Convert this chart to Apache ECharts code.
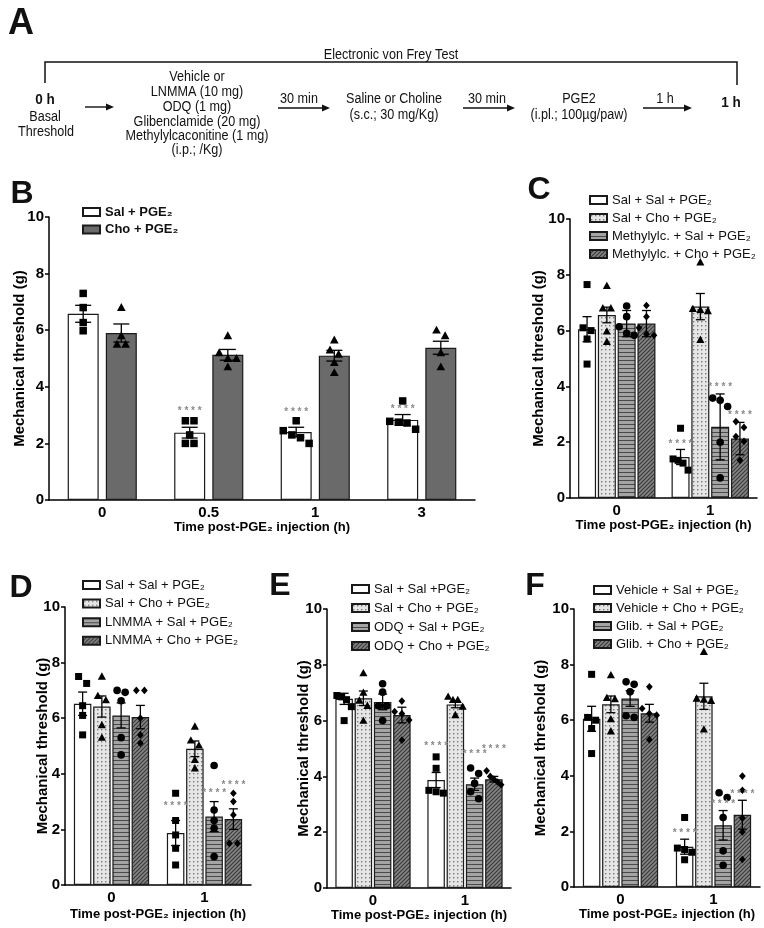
<!DOCTYPE html>
<html><head><meta charset="utf-8">
<script src="https://cdn.jsdelivr.net/npm/echarts@6/dist/echarts.min.js"></script>
<style>html,body{margin:0;padding:0;background:#fff}#c{width:764px;height:928px}</style>
</head><body><div id="c"></div>
<script>
// ================= DATA =================
const catsB = ['0', '0.5', '1', '3'];
const catsCF = ['0', '1'];
const xTitle = 'Time post-PGE₂ injection (h)';
const yTitle = 'Mechanical threshold (g)';

// Panel B
const B_sal_mean = [6.58, 2.38, 2.4, 2.83];
const B_sal_sem = [0.3, 0.19, 0.17, 0.19];
const B_sal_pts = [[7.3, 6.8, 6.27, 5.98], [2.8, 2.8, 2.3, 2.0, 2.0], [2.8, 2.45, 2.3, 2.2, 2.0], [3.5, 2.78, 2.75, 2.72, 2.5]];
const B_sal_stars = [null, 3.12, 3.1, 3.2];
const B_cho_mean = [5.9, 5.13, 5.1, 5.38];
const B_cho_sem = [0.32, 0.19, 0.19, 0.23];
const B_cho_pts = [[6.8, 5.8, 5.5, 5.5], [5.8, 5.2, 5.0, 5.0, 4.7], [5.65, 5.3, 5.15, 4.85, 4.5], [6.0, 5.8, 5.2, 4.7]];

// Panel C
const C_salsal_mean = [6.05, 1.47], C_salsal_sem = [0.45, 0.27];
const C_salsal_pts = [[7.65, 6.1, 6.0, 5.7, 4.8], [2.5, 1.4, 1.35, 1.25, 1.0]];
const C_salsal_stars = [null, 1.93];
const C_salcho_mean = [6.56, 6.86], C_salcho_sem = [0.28, 0.47];
const C_salcho_pts = [[7.6, 6.8, 6.8, 5.97, 5.6], [8.45, 6.78, 6.74, 6.7, 5.67]];
const C_mlasal_mean = [6.25, 2.55], C_mlasal_sem = [0.47, 1.18];
const C_mlasal_pts = [[6.88, 6.5, 6.14, 5.9, 5.83], [3.58, 3.5, 3.28, 2.0, 0.72]];
const C_mlasal_stars = [null, 3.97];
const C_mlacho_mean = [6.25, 2.13], C_mlacho_sem = [0.47, 0.58];
const C_mlacho_pts = [[6.9, 6.5, 6.1, 5.88, 5.83], [2.74, 2.53, 2.2, 2.03, 1.35]];
const C_mlacho_stars = [null, 2.96];

// Panel D
const D_salsal_mean = [6.52, 1.87], D_salsal_sem = [0.42, 0.45];
const D_salsal_pts = [[7.5, 7.25, 6.45, 6.1, 5.4], [3.3, 2.32, 1.8, 1.32, 0.72]];
const D_salsal_stars = [null, 2.84];
const D_salcho_mean = [6.42, 4.9], D_salcho_sem = [0.38, 0.28];
const D_salcho_pts = [[7.5, 6.8, 6.65, 5.75, 5.3], [5.7, 5.2, 5.02, 4.5, 4.2]];
const D_lnsal_mean = [6.1, 2.46], D_lnsal_sem = [0.45, 0.54];
const D_lnsal_pts = [[7.0, 6.93, 6.63, 5.3, 4.68], [4.3, 2.7, 2.32, 2.04, 1.02]];
const D_lnsal_stars = [null, 3.3];
const D_lncho_mean = [6.04, 2.37], D_lncho_sem = [0.42, 0.37];
const D_lncho_pts = [[7.0, 7.0, 6.0, 5.4, 5.1], [3.3, 3.0, 2.52, 1.5, 1.5]];
const D_lncho_stars = [null, 3.6];

// Panel E
const E_salsal_mean = [6.78, 3.87], E_salsal_sem = [0.2, 0.27];
const E_salsal_pts = [[6.9, 6.85, 6.75, 6.5, 6.0], [4.7, 4.29, 3.5, 3.45, 3.4]];
const E_salsal_stars = [null, 5.07];
const E_salcho_mean = [6.8, 6.58], E_salcho_sem = [0.26, 0.12];
const E_salcho_pts = [[7.7, 7.0, 6.72, 6.53, 6.0], [6.86, 6.74, 6.74, 6.5, 6.2]];
const E_odqsal_mean = [6.67, 3.72], E_odqsal_sem = [0.28, 0.22];
const E_odqsal_pts = [[7.32, 7.02, 6.53, 6.53, 6.0], [4.3, 4.1, 3.75, 3.45, 3.2]];
const E_odqsal_stars = [null, 4.79];
const E_odqcho_mean = [6.2, 3.9], E_odqcho_sem = [0.28, 0.1];
const E_odqcho_pts = [[6.7, 6.32, 6.25, 6.02, 5.3], [4.2, 4.0, 3.9, 3.8, 3.7]];
const E_odqcho_stars = [null, 4.97];

// Panel F
const F_vehsal_mean = [6.05, 1.45], F_vehsal_sem = [0.45, 0.27];
const F_vehsal_pts = [[7.65, 6.1, 6.0, 5.7, 4.8], [2.5, 1.4, 1.35, 1.25, 0.98]];
const F_vehsal_stars = [null, 1.95];
const F_vehcho_mean = [6.57, 6.86], F_vehcho_sem = [0.3, 0.47];
const F_vehcho_pts = [[7.62, 6.8, 6.76, 6.04, 5.6], [8.46, 6.78, 6.74, 6.7, 5.67]];
const F_glisal_mean = [6.78, 2.22], F_glisal_sem = [0.28, 0.53];
const F_glisal_pts = [[7.38, 7.29, 7.02, 6.16, 6.1], [3.39, 3.22, 2.5, 1.3, 0.78]];
const F_glisal_stars = [null, 2.98];
const F_glicho_mean = [6.25, 2.6], F_glicho_sem = [0.32, 0.52];
const F_glicho_pts = [[7.2, 6.42, 6.24, 6.18, 5.3], [3.99, 3.48, 2.48, 1.98, 0.99]];
const F_glicho_stars = [null, 3.34];

// ================= STYLE =================
const SANS = '"Liberation Sans",Arial,Helvetica,sans-serif';

function pat(w, h, draw) {
  const c = document.createElement('canvas'); c.width = w; c.height = h;
  draw(c.getContext('2d')); return { image: c, repeat: 'repeat' };
}
const FILL = {
  white: '#ffffff',
  dark: '#6a6a6a',
  dots: pat(4, 4, g => { g.fillStyle = '#e6e6e6'; g.fillRect(0, 0, 4, 4); g.fillStyle = '#7a7a7a'; g.fillRect(1, 1, 1.4, 1.4); }),
  stripes: pat(4, 4, g => { g.fillStyle = '#a4a4a4'; g.fillRect(0, 0, 4, 4); g.fillStyle = '#4a4a4a'; g.fillRect(0, 0, 4, 1); }),
  hatch: pat(4, 4, g => { g.fillStyle = '#858585'; g.fillRect(0, 0, 4, 4); g.strokeStyle = '#3a3a3a'; g.lineWidth = 1.2;
    g.beginPath(); g.moveTo(0, 4); g.lineTo(4, 0); g.moveTo(-1, 1); g.lineTo(1, -1); g.moveTo(3, 5); g.lineTo(5, 3); g.stroke(); })
};

function S(name, mean, sem, pts, stars, fill, symbol) { return { name, mean, sem, pts, stars, fill, symbol }; }

const panels = [
  { grid: { left: 49, top: 217, width: 426, height: 283 }, cats: catsB, bw: 31, gap: 0.23, sym: 7.5, cap: 8, yGap: 22, xGap: 20,
    legend: { left: 77, top: 199, gap: 1.6, bold: true },
    series: [S('Sal + PGE₂', B_sal_mean, B_sal_sem, B_sal_pts, B_sal_stars, 'white', 'rect'),
             S('Cho + PGE₂', B_cho_mean, B_cho_sem, B_cho_pts, null, 'dark', 'triangle')] },
  { grid: { left: 570, top: 219, width: 187, height: 279 }, cats: catsCF, bw: 18, gap: 0.1, sym: 7, cap: 4.5, yGap: 24, xGap: 20,
    legend: { left: 584, top: 187, gap: 2 },
    series: [S('Sal + Sal + PGE₂', C_salsal_mean, C_salsal_sem, C_salsal_pts, C_salsal_stars, 'white', 'rect'),
             S('Sal + Cho + PGE₂', C_salcho_mean, C_salcho_sem, C_salcho_pts, null, 'dots', 'triangle'),
             S('Methylylc. + Sal + PGE₂', C_mlasal_mean, C_mlasal_sem, C_mlasal_pts, C_mlasal_stars, 'stripes', 'circle'),
             S('Methylylc. + Cho + PGE₂', C_mlacho_mean, C_mlacho_sem, C_mlacho_pts, C_mlacho_stars, 'hatch', 'diamond')] },
  { grid: { left: 65, top: 607, width: 186, height: 278 }, cats: catsCF, bw: 17.5, gap: 0.1, sym: 7, cap: 4.5, yGap: 15, xGap: 23,
    legend: { left: 77, top: 572, gap: 2.6 },
    series: [S('Sal + Sal + PGE₂', D_salsal_mean, D_salsal_sem, D_salsal_pts, D_salsal_stars, 'white', 'rect'),
             S('Sal + Cho + PGE₂', D_salcho_mean, D_salcho_sem, D_salcho_pts, null, 'dots', 'triangle'),
             S('LNMMA + Sal + PGE₂', D_lnsal_mean, D_lnsal_sem, D_lnsal_pts, D_lnsal_stars, 'stripes', 'circle'),
             S('LNMMA + Cho + PGE₂', D_lncho_mean, D_lncho_sem, D_lncho_pts, D_lncho_stars, 'hatch', 'diamond')] },
  { grid: { left: 327, top: 609, width: 184, height: 279 }, cats: catsCF, bw: 17.5, gap: 0.1, sym: 7, cap: 4.5, yGap: 16, xGap: 17,
    legend: { left: 346, top: 576, gap: 3 },
    series: [S('Sal + Sal +PGE₂', E_salsal_mean, E_salsal_sem, E_salsal_pts, E_salsal_stars, 'white', 'rect'),
             S('Sal + Cho + PGE₂', E_salcho_mean, E_salcho_sem, E_salcho_pts, null, 'dots', 'triangle'),
             S('ODQ + Sal + PGE₂', E_odqsal_mean, E_odqsal_sem, E_odqsal_pts, E_odqsal_stars, 'stripes', 'circle'),
             S('ODQ + Cho + PGE₂', E_odqcho_mean, E_odqcho_sem, E_odqcho_pts, E_odqcho_stars, 'hatch', 'diamond')] },
  { grid: { left: 574, top: 609, width: 186, height: 278 }, cats: catsCF, bw: 17.5, gap: 0.1, sym: 7, cap: 4.5, yGap: 26, xGap: 21,
    legend: { left: 588, top: 577, gap: 2 },
    series: [S('Vehicle + Sal + PGE₂', F_vehsal_mean, F_vehsal_sem, F_vehsal_pts, F_vehsal_stars, 'white', 'rect'),
             S('Vehicle + Cho + PGE₂', F_vehcho_mean, F_vehcho_sem, F_vehcho_pts, null, 'dots', 'triangle'),
             S('Glib. + Sal + PGE₂', F_glisal_mean, F_glisal_sem, F_glisal_pts, F_glisal_stars, 'stripes', 'circle'),
             S('Glib. + Cho + PGE₂', F_glicho_mean, F_glicho_sem, F_glicho_pts, F_glicho_stars, 'hatch', 'diamond')] }
];

// horizontal spread of overlapping points (layout rule, like a column scatter)
function spread(ys, sym, bw) {
  const idx = ys.map((y, i) => i).sort((a, b) => ys[a] - ys[b]);
  const off = new Array(ys.length).fill(0);
  let cl = [idx[0]];
  const flush = () => {
    const k = cl.length;
    if (k > 1) {
      const step = Math.min(sym * 1.15, (bw + 4 - sym) / (k - 1));
      cl.forEach((id, j) => { off[id] = (j - (k - 1) / 2) * step; });
    }
  };
  for (let j = 1; j < idx.length; j++) {
    if (ys[idx[j]] - ys[idx[j - 1]] < sym) cl.push(idx[j]); else { flush(); cl = [idx[j]]; }
  }
  flush();
  return off;
}
function symbolShape(kind, x, y, s) {
  const st = { fill: '#000' };
  if (kind === 'rect') return { type: 'rect', shape: { x: x - s / 2, y: y - s / 2, width: s, height: s }, style: st };
  if (kind === 'circle') return { type: 'circle', shape: { cx: x, cy: y, r: s / 2 + 0.3 }, style: st };
  if (kind === 'triangle') return { type: 'polygon', shape: { points: [[x, y - s * 0.6], [x + s * 0.58, y + s * 0.45], [x - s * 0.58, y + s * 0.45]] }, style: st };
  return { type: 'polygon', shape: { points: [[x, y - s * 0.55], [x + s * 0.48, y], [x, y + s * 0.55], [x - s * 0.48, y]] }, style: st };
}

const grids = [], xAxes = [], yAxes = [], series = [], legends = [];
const axisTxt = { fontFamily: SANS, fontSize: 15, fontWeight: 'bold', color: '#000' };
panels.forEach((p, i) => {
  grids.push(Object.assign({ containLabel: false }, p.grid));
  xAxes.push({ type: 'category', gridIndex: i, data: p.cats,
    axisLine: { lineStyle: { color: '#000', width: 1.5 } }, axisTick: { show: false },
    axisLabel: Object.assign({ margin: 5 }, axisTxt),
    name: xTitle, nameLocation: 'middle', nameGap: p.xGap,
    nameTextStyle: { fontFamily: SANS, fontSize: 13, fontWeight: 'bold', color: '#000' } });
  yAxes.push({ type: 'value', gridIndex: i, min: 0, max: 10, interval: 2,
    axisLine: { show: true, lineStyle: { color: '#000', width: 1.5 } },
    axisTick: { show: true, length: 4, lineStyle: { color: '#000', width: 1.5 } },
    splitLine: { show: false }, axisLabel: Object.assign({ margin: 5 }, axisTxt),
    name: yTitle, nameLocation: 'middle', nameRotate: 90, nameGap: p.yGap, nameMoveOverlap: false,
    nameTextStyle: { fontFamily: SANS, fontSize: 15, fontWeight: 'bold', color: '#000' } });
  const n = p.series.length;
  p.series.forEach((s, si) => {
    series.push({ type: 'bar', name: s.name, xAxisIndex: i, yAxisIndex: i, data: s.mean,
      barWidth: p.bw, barGap: (p.gap * 100) + '%', silent: true,
      itemStyle: { color: FILL[s.fill], borderColor: '#1a1a1a', borderWidth: 1.2 } });
    series.push({ type: 'custom', xAxisIndex: i, yAxisIndex: i, silent: true, z: 5,
      data: s.mean.map((m, k) => [k, m, s.sem[k]]), encode: { x: 0, y: 1 },
      renderItem: (params, api) => {
        const k = api.value(0), m = api.value(1), e = api.value(2);
        const cx = api.coord([k, m])[0] + (si - (n - 1) / 2) * p.bw * (1 + p.gap);
        const yT = api.coord([k, m + e])[1], yB = api.coord([k, m - e])[1];
        const ls = { stroke: '#000', lineWidth: 1.3 };
        const ch = [
          { type: 'line', shape: { x1: cx, y1: yT, x2: cx, y2: yB }, style: ls },
          { type: 'line', shape: { x1: cx - p.cap, y1: yT, x2: cx + p.cap, y2: yT }, style: ls },
          { type: 'line', shape: { x1: cx - p.cap, y1: yB, x2: cx + p.cap, y2: yB }, style: ls }
        ];
        const vals = s.pts[k];
        const ys = vals.map(v => api.coord([k, v])[1]);
        const off = spread(ys, p.sym, p.bw);
        ys.forEach((y, j) => ch.push(symbolShape(s.symbol, cx + off[j], y, p.sym)));
        if (s.stars && s.stars[k] != null) {
          ch.push({ type: 'text', style: { text: '* * * *', x: cx, y: api.coord([k, s.stars[k]])[1],
            align: 'center', verticalAlign: 'middle', fill: '#8a8a8a', font: 'bold 10px ' + SANS } });
        }
        return { type: 'group', children: ch };
      } });
  });
  legends.push({ left: p.legend.left, top: p.legend.top, orient: 'vertical', icon: 'rect',
    itemWidth: 17, itemHeight: 8, itemGap: p.legend.gap, selectedMode: false,
    data: p.series.map(s => s.name),
    textStyle: { fontFamily: SANS, fontSize: 13, lineHeight: 16, fontWeight: p.legend.bold ? 'bold' : 'normal', color: '#111' } });
});

// ================= PANEL A (diagram) + panel letters =================
const g = [];
function txt(t, x, y, opt) {
  opt = opt || {};
  const sx = opt.letter ? 1 : 0.9;
  g.push({ type: 'text', x: x, y: y, scaleX: sx, style: { text: t, x: 0, y: 0, align: 'center', verticalAlign: 'middle',
    fill: '#111', font: (opt.bold ? 'bold ' : '') + (opt.size || 14) + 'px ' + SANS } });
}
function arrow(x1, x2, y) {
  g.push({ type: 'line', shape: { x1: x1, y1: y, x2: x2 - 6, y2: y }, style: { stroke: '#111', lineWidth: 1.4 } });
  g.push({ type: 'polygon', shape: { points: [[x2, y], [x2 - 8, y - 3.5], [x2 - 8, y + 3.5]] }, style: { fill: '#111' } });
}
txt('A', 21, 24, { bold: true, size: 36, letter: true });
txt('B', 22, 194, { bold: true, size: 32, letter: true });
txt('C', 539, 190, { bold: true, size: 32, letter: true });
txt('D', 21, 588, { bold: true, size: 32, letter: true });
txt('E', 280, 586, { bold: true, size: 32, letter: true });
txt('F', 535, 586, { bold: true, size: 32, letter: true });

txt('Electronic von Frey Test', 391, 55);
g.push({ type: 'polyline', shape: { points: [[45, 83], [45, 62], [737, 62], [737, 85]] }, style: { stroke: '#111', lineWidth: 1.5, fill: null } });
txt('0 h', 45, 100, { bold: true, size: 15 });
txt('Basal', 45, 117);
txt('Threshold', 46, 132);
arrow(85, 114, 107);
txt('Vehicle or', 197, 77);
txt('LNMMA (10 mg)', 197, 92.5);
txt('ODQ (1 mg)', 197, 107);
txt('Glibenclamide (20 mg)', 197, 122);
txt('Methylylcaconitine (1 mg)', 197, 136.5);
txt('(i.p.; /Kg)', 197, 150);
txt('30 min', 299, 99);
arrow(278, 330, 108);
txt('Saline or Choline', 394, 99);
txt('(s.c.; 30 mg/Kg)', 394, 115);
txt('30 min', 487, 99);
arrow(463, 515, 108);
txt('PGE2', 579, 99);
txt('(i.pl.; 100µg/paw)', 579, 115);
txt('1 h', 665, 99);
arrow(643, 692, 108);
txt('1 h', 731, 103, { bold: true, size: 15 });

const chart = echarts.init(document.getElementById('c'), null, { renderer: 'canvas' });
chart.setOption({
  backgroundColor: '#fff', animation: false,
  grid: grids, xAxis: xAxes, yAxis: yAxes, series: series, legend: legends, graphic: g
});
</script></body></html>
